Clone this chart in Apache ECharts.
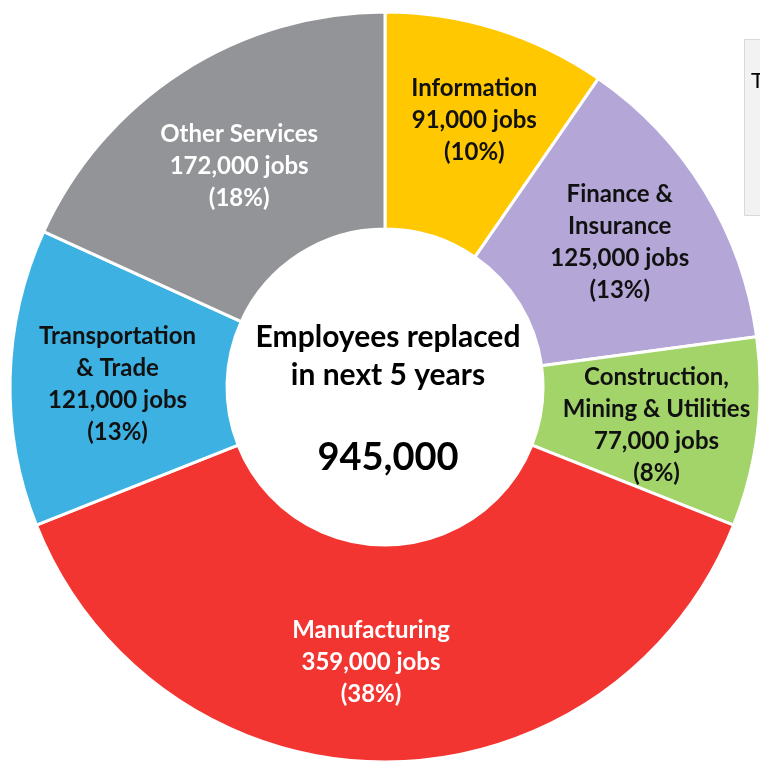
<!DOCTYPE html>
<html>
<head>
<meta charset="utf-8">
<script src="https://cdn.jsdelivr.net/npm/echarts@6/dist/echarts.min.js"></script>
<style>
  html, body { margin: 0; padding: 0; background: #fff; }
  #chart { width: 760px; height: 762px; }
</style>
</head>
<body>
<div id="chart"></div>
<script>
// sectors, clockwise from 12 o'clock
const sectors = ['Information', 'Finance & Insurance', 'Construction, Mining & Utilities', 'Manufacturing', 'Transportation & Trade', 'Other Services'];
const labelNames = ['Information', 'Finance &\nInsurance', 'Construction,\nMining & Utilities', 'Manufacturing', 'Transportation\n& Trade', 'Other Services'];
const jobs = [91000, 125000, 77000, 359000, 121000, 172000];
const shares = [10, 13, 8, 38, 13, 18];
const centerLines = ['Employees replaced', 'in next 5 years'];
const total = '945,000';

// styling
const colors = ['#FFC800', '#B4A7D7', '#A2D46A', '#F33531', '#3DB2E2', '#939498'];
const textColors = ['#111', '#111', '#111', '#fff', '#111', '#fff'];
const labelShift = [[9, -9], [5, -4], [4, 6], [-14, 6], [2, 4], [0, 6]];

const FONT = 'Lato, "Open Sans", sans-serif';
const chart = echarts.init(document.getElementById('chart'));

chart.setOption({
  backgroundColor: '#fff',
  animation: false,
  graphic: [
    {
      type: 'rect',
      shape: { x: 744.5, y: 39.5, width: 30, height: 176 },
      style: { fill: '#f2f2f2', stroke: '#d9d9d9', lineWidth: 1 },
      z: 1
    },
    {
      type: 'text',
      x: 751, y: 70,
      style: { text: 'T', font: '22px ' + FONT, fill: '#000' },
      z: 2
    },
    {
      type: 'text',
      x: 388, y: 356,
      style: {
        text: centerLines.join('\n'),
        font: 'bold 30px ' + FONT,
        fill: '#000',
        align: 'center',
        verticalAlign: 'middle',
        lineHeight: 38
      },
      z: 10
    },
    {
      type: 'text',
      x: 388, y: 458,
      style: {
        text: total,
        font: 'bold 38px ' + FONT,
        fill: '#000',
        align: 'center',
        verticalAlign: 'middle'
      },
      z: 10
    }
  ],
  series: [{
    type: 'pie',
    center: [385, 387],
    radius: [158, 375],
    startAngle: 90,
    clockwise: true,
    avoidLabelOverlap: false,
    itemStyle: { borderColor: '#fff', borderWidth: 3 },
    label: {
      show: true,
      position: 'inside',
      fontFamily: FONT,
      fontWeight: 'bold',
      fontSize: 24,
      lineHeight: 32,
      align: 'center'
    },
    labelLine: { show: false },
    emphasis: { disabled: true },
    data: sectors.map((s, i) => ({
      name: s,
      value: jobs[i],
      itemStyle: { color: colors[i] },
      label: {
        color: textColors[i],
        offset: labelShift[i],
        formatter: labelNames[i] + '\n' + jobs[i].toLocaleString('en-US') + ' jobs\n(' + shares[i] + '%)'
      }
    }))
  }]
});
</script>
</body>
</html>
